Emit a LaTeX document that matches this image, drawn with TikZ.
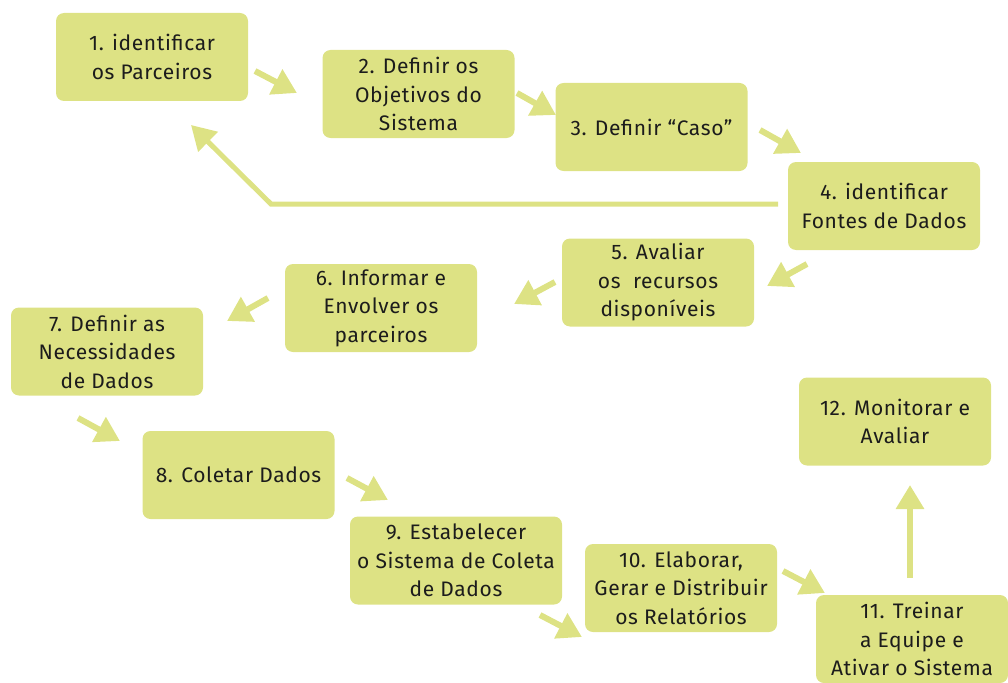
\documentclass[tikz,border=0pt]{standalone}
\usepackage{fontspec}
\setmainfont{Fira Sans}[LetterSpace=3]
\usetikzlibrary{arrows.meta}
\definecolor{boxc}{HTML}{DDE284}
\definecolor{textc}{HTML}{1C1C1C}
\tikzset{
  stepbox/.style={rounded corners=8pt, fill=boxc, minimum width=192pt, minimum height=88pt,
    align=center, inner sep=0pt, text=textc, font=\fontsize{21}{28.5}\selectfont},
  flow/.style={line width=6pt, draw=boxc, -{Triangle[length=24pt,width=27pt]}},
  back/.style={line width=5pt, draw=boxc, -{Triangle[length=24pt,width=27pt]}}
}
\begin{document}
\begin{tikzpicture}[x=1pt,y=-1pt]
\useasboundingbox (0,0) rectangle (1008,682);
% boxes
\node[stepbox] (n1) at (152,57) {1. identificar\\os Parceiros};
\node[stepbox] (n2) at (418.5,94) {2. Definir os\\Objetivos do\\Sistema};
\node[stepbox] (n3) at (651.5,127) {3. Definir “Caso”};
\node[stepbox] (n4) at (884,206) {4. identificar\\Fontes de Dados};
\node[stepbox] (n5) at (658,282.5) {5. Avaliar\\os\ \ recursos\\disponíveis};
\node[stepbox] (n6) at (381,308) {6. Informar e\\Envolver os\\parceiros};
\node[stepbox] (n7) at (107,351.5) {7. Definir as\\Necessidades\\de Dados};
\node[stepbox] (n8) at (238.5,475) {8. Coletar Dados};
\node[stepbox, minimum width=212pt] (n9) at (456,560.5) {9. Estabelecer\\o Sistema de Coleta\\de Dados};
\node[stepbox] (n10) at (681,588) {10. Elaborar,\\Gerar e Distribuir\\os Relatórios};
\node[stepbox] (n11) at (912,639) {11. Treinar\\a Equipe e\\Ativar o Sistema};
\node[stepbox] (n12) at (895,421.5) {12. Monitorar e\\Avaliar};
% arrow end points
\coordinate (s12) at (255,71);  \coordinate (e12) at (297,93);
\coordinate (s23) at (517,93);  \coordinate (e23) at (556,115);
\coordinate (s34) at (760,130); \coordinate (e34) at (801,153);
\coordinate (s45) at (807,264); \coordinate (e45) at (767,286);
\coordinate (s56) at (555,282); \coordinate (e56) at (514,304);
\coordinate (s67) at (268,298); \coordinate (e67) at (227,321);
\coordinate (s78) at (78,418);  \coordinate (e78) at (120,441);
\coordinate (s89) at (347,478); \coordinate (e89) at (388,500);
\coordinate (s910) at (540,615); \coordinate (e910) at (582,637);
\coordinate (s1011) at (783,571); \coordinate (e1011) at (825,593);
\coordinate (s1112) at (910,578); \coordinate (e1112) at (910,485);
\coordinate (fb1) at (778,204); \coordinate (fb2) at (271,204); \coordinate (fb3) at (191,125);
% arrows
\draw[flow] (s12) -- (e12);
\draw[flow] (s23) -- (e23);
\draw[flow] (s34) -- (e34);
\draw[flow] (s45) -- (e45);
\draw[flow] (s56) -- (e56);
\draw[flow] (s67) -- (e67);
\draw[flow] (s78) -- (e78);
\draw[flow] (s89) -- (e89);
\draw[flow] (s910) -- (e910);
\draw[flow] (s1011) -- (e1011);
\draw[flow] (s1112) -- (e1112);
\draw[back] (fb1) -- (fb2) -- (fb3);
\end{tikzpicture}
\end{document}
